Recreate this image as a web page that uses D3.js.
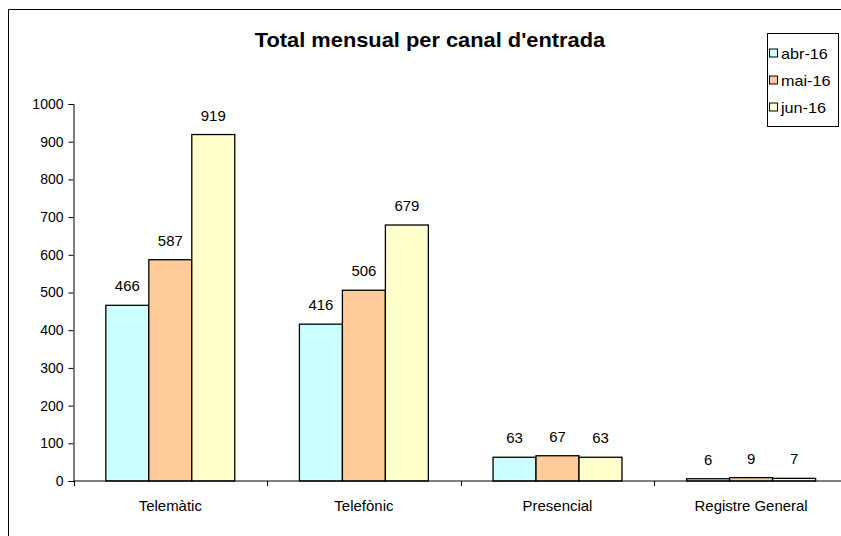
<!DOCTYPE html>
<meta charset="utf-8">
<head>
  <title>Total mensual per canal d'entrada</title>
</head>

<style>
body {
  margin: 0;
  background: #fff;
}
svg text {
  font-family: Arial, "Liberation Sans", sans-serif;
  fill: #000;
}
</style>

<body>
  <div id="content">
    <svg width="841" height="536"></svg>
  </div>

  <script src="https://cdnjs.cloudflare.com/ajax/libs/d3/7.8.5/d3.min.js"></script>

  <script>
var categories = ['Telemàtic', 'Telefònic', 'Presencial', 'Registre General'];
var months = ['abr-16', 'mai-16', 'jun-16'];
var abr16 = [466, 416, 63, 6];
var mai16 = [587, 506, 67, 9];
var jun16 = [919, 679, 63, 7];
var yTicks = [0, 100, 200, 300, 400, 500, 600, 700, 800, 900, 1000];
var colours = ['#ccffff', '#ffcc99', '#ffffcc'];

var series = [abr16, mai16, jun16];

var svg = d3.select('svg');

// outer chart frame (cut off on the right and bottom)
svg.append('path')
  .attr('d', 'M8.5,536V9.5H841')
  .attr('fill', 'none')
  .attr('stroke', '#000')
  .attr('stroke-width', 1);

var x0 = d3.scaleBand()
  .domain(categories)
  .range([73.5, 847.9])
  .paddingInner(0.334)
  .paddingOuter(0.167);

var x1 = d3.scaleBand()
  .domain(months)
  .range([0, x0.bandwidth()]);

var y = d3.scaleLinear()
  .domain([0, 1000])
  .range([481, 104]);

// stretched text helper (the original renders slightly wide)
function txt(g, x, yy, s, size, anchor, weight, sx) {
  return g.append('text')
    .attr('transform', 'translate(' + x + ',' + yy + ') scale(' + (sx || 1.07) + ',1)')
    .attr('text-anchor', anchor)
    .attr('font-size', size)
    .attr('font-weight', weight || 'normal')
    .text(s);
}

// title
txt(svg, 430, 47, "Total mensual per canal d'entrada", '19.5px', 'middle', 'bold', 1.12);

// y axis
var yAxis = svg.append('g')
  .attr('transform', 'translate(73.5,0)')
  .call(d3.axisLeft(y).tickValues(yTicks).tickFormat(d3.format('d')).tickSize(5).tickPadding(5));
yAxis.select('.domain').attr('stroke', '#000');
yAxis.selectAll('.tick line').attr('stroke', '#000');
yAxis.selectAll('.tick text')
  .attr('font-size', '14px')
  .attr('font-family', 'Arial, "Liberation Sans", sans-serif')
  .attr('fill', '#000');

// bars
var groups = svg.selectAll('.grp')
  .data(categories)
  .enter().append('g')
  .attr('class', 'grp')
  .attr('transform', function(d) { return 'translate(' + x0(d) + ',0)'; });

groups.each(function(cat, ci) {
  var g = d3.select(this);
  months.forEach(function(m, mi) {
    var v = series[mi][ci];
    g.append('rect')
      .attr('x', x1(m))
      .attr('y', y(v))
      .attr('width', x1.bandwidth())
      .attr('height', y(0) - y(v))
      .attr('fill', colours[mi])
      .attr('stroke', '#000')
      .attr('stroke-width', 1.3);
    txt(g, x1(m) + x1.bandwidth() / 2, y(v) - 14, String(v), '14px', 'middle');
  });
});

// x axis
svg.append('line')
  .attr('x1', 73.5).attr('x2', 841)
  .attr('y1', 481).attr('y2', 481)
  .attr('stroke', '#000');

categories.forEach(function(c, i) {
  var bx = Math.round(x0(c) - x0.step() * x0.paddingOuter()) + 0.5;
  svg.append('line')
    .attr('x1', bx).attr('x2', bx)
    .attr('y1', 481).attr('y2', 486)
    .attr('stroke', '#000');
  txt(svg, x0(c) + x0.bandwidth() / 2, 511, c, '14px', 'middle');
});

// legend
var legend = svg.append('g');
legend.append('rect')
  .attr('x', 767.5).attr('y', 33.5)
  .attr('width', 71).attr('height', 93)
  .attr('fill', '#fff')
  .attr('stroke', '#000');

months.forEach(function(m, i) {
  var cy = 53 + i * 27;
  legend.append('rect')
    .attr('x', 769.5).attr('y', cy - 4)
    .attr('width', 8).attr('height', 8)
    .attr('fill', colours[i])
    .attr('stroke', '#000');
  txt(legend, 781, cy + 5.5, m, '15px', 'start', 'normal', 1.08);
});
  </script>
</body>
</html>
